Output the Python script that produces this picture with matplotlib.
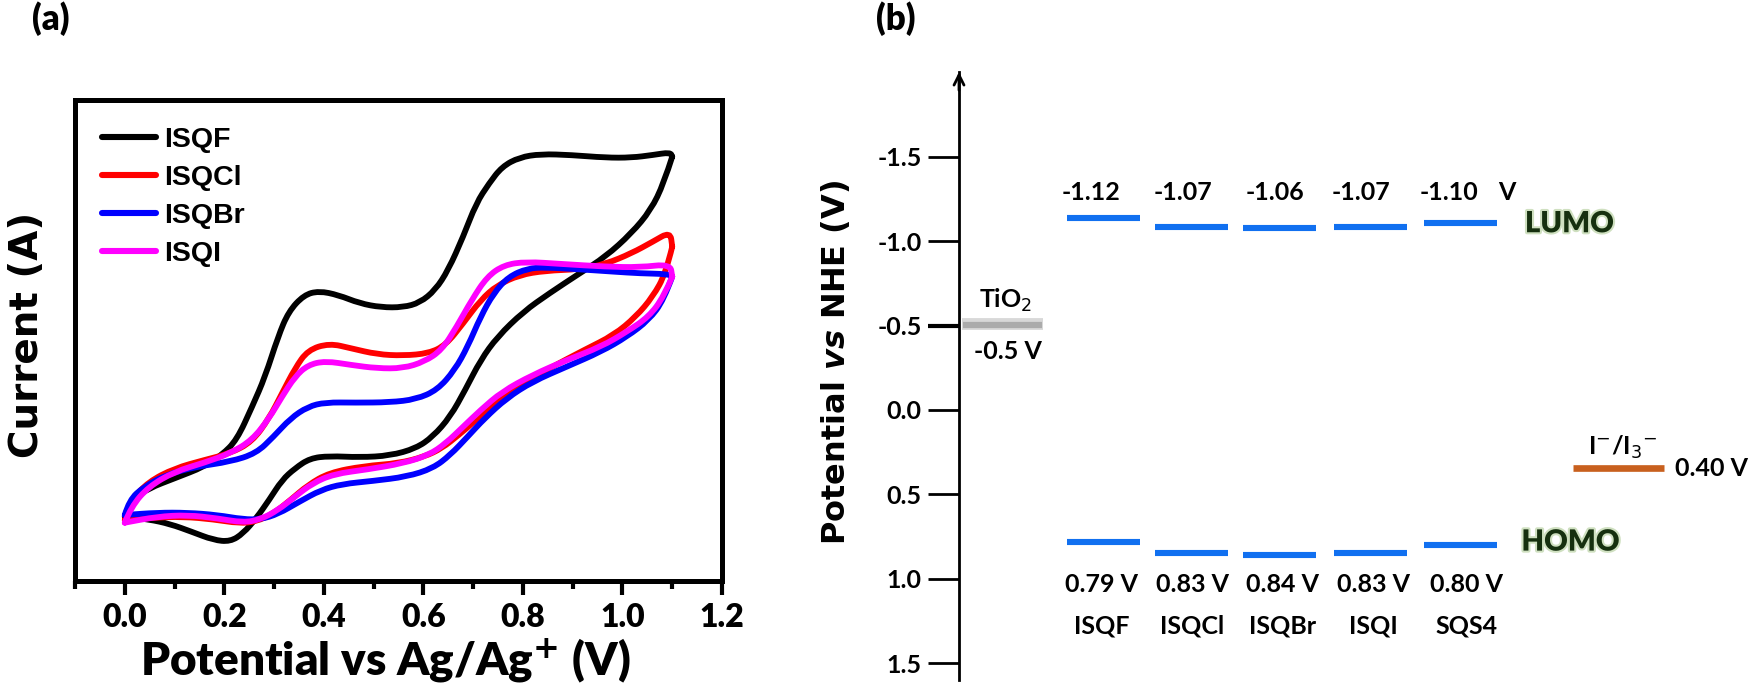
import matplotlib
matplotlib.use('Agg')
import matplotlib.pyplot as plt
import matplotlib.patheffects as pe
from matplotlib.lines import Line2D
from matplotlib.patches import PathPatch
from matplotlib.path import Path

# CV curves, x in V, current in arbitrary units
isqf_x = [0, .013, .048, .100, .160, .195, .225, .256, .282, .308, .329, .360, .390, .429, .472, .515, .559, .593, .624, .650, .680, .706, .732, .758, .793, .836, .897, .966, 1.018, 1.061, 1.096, 1.100, 1.083, 1.057, 1.018, .966, .914, .853, .801, .749, .715, .684, .654, .619, .585, .533, .472, .411, .372, .342, .316, .290, .264, .238, .212, .178, .134, .091, .048, 0]
isqf_y = [181, 231, 266, 296, 331, 366, 411, 511, 601, 721, 796, 846, 858, 846, 821, 809, 809, 823, 861, 921, 1021, 1121, 1181, 1231, 1259, 1269, 1266, 1258, 1258, 1266, 1274, 1261, 1181, 1101, 1031, 961, 911, 851, 796, 721, 651, 561, 481, 421, 386, 364, 359, 363, 356, 326, 291, 231, 176, 131, 106, 111, 136, 159, 173, 181]
isqcl_x = [0, .013, .048, .100, .160, .212, .256, .290, .316, .342, .368, .411, .455, .507, .559, .611, .645, .680, .715, .749, .793, .845, .914, .966, 1.018, 1.061, 1.096, 1.100, 1.087, 1.061, 1.027, .983, .923, .853, .793, .749, .706, .671, .637, .602, .550, .481, .411, .368, .333, .299, .264, .230, .178, .117, .056, 0]
isqcl_y = [171, 231, 286, 326, 351, 371, 406, 476, 551, 626, 681, 701, 686, 668, 664, 671, 696, 761, 831, 876, 906, 919, 923, 939, 971, 1006, 1036, 991, 911, 841, 781, 726, 681, 626, 576, 531, 471, 426, 386, 361, 341, 333, 313, 276, 231, 191, 166, 161, 173, 181, 178, 171]
isqbr_x = [0, .009, .039, .082, .143, .212, .264, .299, .333, .368, .403, .463, .533, .585, .628, .663, .689, .715, .741, .771, .810, .845, .914, .983, 1.035, 1.091, 1.100, 1.083, 1.053, 1.009, .957, .888, .819, .767, .723, .689, .654, .619, .567, .498, .437, .394, .351, .308, .273, .238, .186, .126, .065, 0]
isqbr_y = [186, 231, 271, 306, 331, 346, 371, 421, 476, 511, 524, 523, 524, 533, 561, 621, 691, 781, 851, 901, 926, 929, 923, 916, 911, 909, 901, 831, 771, 721, 676, 631, 586, 536, 476, 421, 366, 326, 301, 288, 279, 261, 226, 189, 173, 173, 186, 193, 193, 186]
isqi_x = [0, .013, .048, .100, .160, .212, .256, .290, .316, .342, .368, .403, .455, .507, .559, .602, .637, .667, .697, .728, .762, .806, .879, .966, 1.035, 1.096, 1.100, 1.083, 1.053, 1.009, .957, .888, .819, .758, .715, .680, .645, .611, .559, .489, .420, .377, .342, .308, .273, .238, .186, .126, .065, 0]
isqi_y = [163, 211, 271, 316, 343, 371, 411, 476, 541, 601, 636, 648, 636, 626, 626, 646, 681, 751, 831, 901, 936, 946, 939, 931, 929, 939, 901, 841, 781, 736, 691, 651, 606, 556, 501, 451, 401, 366, 341, 323, 309, 281, 241, 201, 173, 163, 176, 186, 181, 163]
cv_names = ['ISQF', 'ISQCl', 'ISQBr', 'ISQI']
cv_colors = ['black', '#ff0000', '#0000ff', '#ff00ff']
cv_ticks = [0.0, 0.2, 0.4, 0.6, 0.8, 1.0, 1.2]
cv_minor = [-0.1, 0.1, 0.3, 0.5, 0.7, 0.9, 1.1]

# energy levels (bar heights as drawn in the picture, labels as printed)
dyes = ['ISQF', 'ISQCl', 'ISQBr', 'ISQI', 'SQS4']
dye_pos = [0, 0.98, 1.97, 2.99, 4.0]
lumo = [-1.135, -1.085, -1.075, -1.085, -1.11]
homo = [0.78, 0.845, 0.86, 0.845, 0.80]
lumo_txt = ['-1.12', '-1.07', '-1.06', '-1.07', '-1.10']
homo_txt = ['0.79 V', '0.83 V', '0.84 V', '0.83 V', '0.80 V']
nhe_ticks = [-1.5, -1.0, -0.5, 0.0, 0.5, 1.0, 1.5]
tio2 = -0.51
redox = 0.345

W, H = 1750, 688
def box(l, t, r, b):
    return [l / W, 1 - b / H, (r - l) / W, (b - t) / H]

def smooth_piece(pts):
    # quadratic curve through the midpoints, the read points act as control points
    verts = [pts[0]]
    codes = [Path.MOVETO]
    for a, b in zip(pts[1:-1], pts[2:]):
        verts += [a, ((a[0] + b[0]) / 2, (a[1] + b[1]) / 2)]
        codes += [Path.CURVE3, Path.CURVE3]
    verts.append(pts[-1])
    codes.append(Path.LINETO)
    return Path(verts, codes)

def smooth(xs, ys):
    # keep the sharp turn at the vertex of the scan
    pts = list(zip(xs, ys))
    tip = xs.index(max(xs))
    return Path.make_compound_path(smooth_piece(pts[:tip + 1]), smooth_piece(pts[tip:]))

small = ['Lato', 'DejaVu Sans']
fig = plt.figure(figsize=(17.5, 6.88), dpi=100)

# ---- (a) ----
ax = fig.add_axes(box(75, 100, 722, 581))
handles = []
for xs, ys, c, n in zip([isqf_x, isqcl_x, isqbr_x, isqi_x], [isqf_y, isqcl_y, isqbr_y, isqi_y], cv_colors, cv_names):
    ax.add_patch(PathPatch(smooth(xs, ys), fill=False, edgecolor=c, lw=4.2, joinstyle='round', capstyle='round'))
    handles.append(Line2D([], [], color=c, lw=4.4, solid_capstyle='round', label=n))
ax.set_xlim(-0.1, 1.2)
ax.set_ylim(-12, 1431)
ax.set_yticks([])
ax.set_xticks(cv_ticks, ['%.1f' % t for t in cv_ticks], family=small, fontweight='heavy', fontsize=23)
ax.set_xticks(cv_minor, minor=True)
ax.tick_params(axis='x', which='major', direction='out', length=10, width=3, pad=6)
ax.tick_params(axis='x', which='minor', direction='out', length=6, width=3)
for s in ax.spines.values():
    s.set_linewidth(3.6)
fig.text(385 / W, 1 - 675 / H, 'Potential vs Ag/Ag$^{\\mathbf{+}}$ (V)', family=small, fontweight='heavy',
         fontsize=33, ha='center', va='baseline')
fig.text(27 / W, 1 - 335 / H, 'Current (A)', family='DejaVu Sans', fontweight='bold', fontsize=28,
         rotation=90, ha='center', va='center')
ax.legend(handles=handles, loc='upper left', bbox_to_anchor=(0.019, 0.973), frameon=False, labelspacing=0.42,
          handlelength=1.9, handletextpad=0.3, borderpad=0,
          prop={'family': 'Liberation Sans', 'weight': 'bold', 'size': 20.5})
fig.text(32 / W, 1 - 19 / H, '(a)', family=small, fontweight='heavy', fontsize=25, va='center')

# ---- (b) ----
ax2 = fig.add_axes(box(959, 72, 1750, 680))
ax2.set_xlim(-1.629, 7.258)
ax2.set_ylim(1.6, -2.002)
for s in ['top', 'right', 'bottom']:
    ax2.spines[s].set_visible(False)
ax2.spines['left'].set_linewidth(2)
ax2.patch.set_alpha(0)
ax2.set_xticks([])
ax2.set_yticks(nhe_ticks, ['%.1f' % t for t in nhe_ticks], family=small, fontweight='bold', fontsize=18)
ax2.tick_params(axis='y', length=22, width=2, pad=5)
ax2.yaxis.get_major_ticks()[2].tick1line.set_markeredgewidth(3)
ax2.annotate('', xy=(0, 1), xytext=(0, 0.97), xycoords='axes fraction',
             arrowprops=dict(arrowstyle='->', lw=2, color='black', mutation_scale=18, shrinkA=0, shrinkB=0))
fig.text(836 / W, 1 - 362 / H, 'Potential $\\mathbfit{vs}$ NHE (V)', family='DejaVu Sans', fontweight='bold',
         fontsize=23, rotation=90, ha='center', va='center')

lumo_lab_x = [-0.15, 0.888, 1.92, 2.89, 3.88]
homo_lab_x = [-0.03, 0.99, 2.01, 3.03, 4.07]
for p, lo, hi in zip(dye_pos, lumo, homo):
    ax2.hlines([lo, hi], p - 0.41, p + 0.41, color='#1170f0', lw=4.4)
for x, t in zip(lumo_lab_x, lumo_txt):
    ax2.text(x, -1.29, t, family=small, fontweight='bold', fontsize=18, ha='center', va='center')
for x, t, d in zip(homo_lab_x, homo_txt, dyes):
    ax2.text(x, 1.037, t, family=small, fontweight='bold', fontsize=18, ha='center', va='center')
    ax2.text(x, 1.28, d, family=small, fontweight='bold', fontsize=18, ha='center', va='center')
ax2.text(4.53, -1.29, 'V', family=small, fontweight='bold', fontsize=18, ha='center', va='center')

glow = [pe.withStroke(linewidth=3, foreground='#cfe0c0')]
ax2.text(4.73, -1.10, 'LUMO', family=small, fontweight='heavy', fontsize=21, color='#16300f', va='center', path_effects=glow)
ax2.text(4.69, 0.786, 'HOMO', family=small, fontweight='heavy', fontsize=21, color='#16300f', va='center', path_effects=glow)

# TiO2 and redox couple
ax2.hlines(tio2, -1.6, -0.68, color='#d8d8d8', lw=8.5)
ax2.hlines(tio2 + 0.004, -1.58, -0.70, color='#ababab', lw=4.5)
ax2.text(-1.10, -0.65, 'TiO$_2$', family=small, fontweight='bold', fontsize=18, ha='center', va='center')
ax2.text(-1.08, -0.344, '-0.5 V', family=small, fontweight='bold', fontsize=18, ha='center', va='center')
ax2.hlines(redox, 5.27, 6.29, color='#c8601e', lw=4.8)
ax2.text(5.83, 0.22, 'I$^{-}$/I$_3$$^{-}$', family=small, fontweight='bold', fontsize=18, ha='center', va='center')
ax2.text(6.42, 0.345, '0.40 V', family=small, fontweight='bold', fontsize=18, va='center')
fig.text(876 / W, 1 - 19 / H, '(b)', family=small, fontweight='heavy', fontsize=25, va='center')

fig.savefig('out.png', dpi=100)
